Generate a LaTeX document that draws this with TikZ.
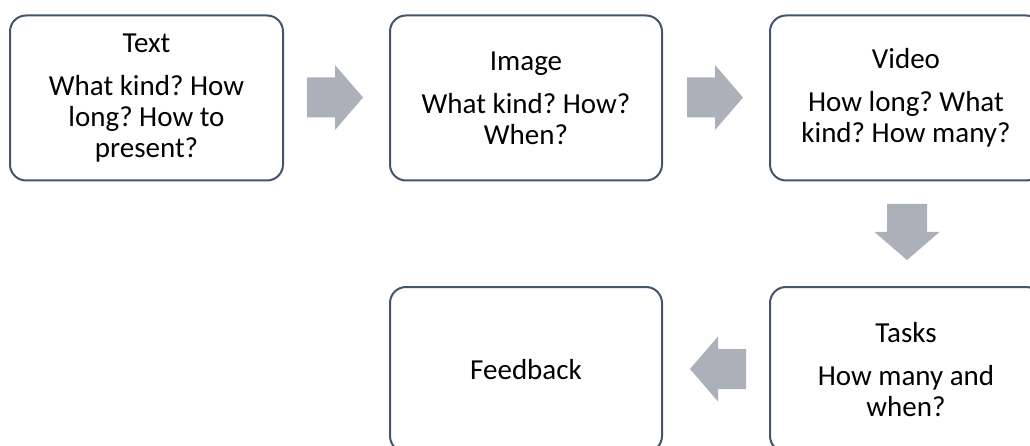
\documentclass[tikz,border=0pt]{standalone}
\usepackage{fontspec}
\setmainfont{Carlito}
\frenchspacing
\definecolor{boxline}{HTML}{44546A}
\definecolor{arrowgray}{RGB}{172,176,184}
\begin{document}
\begin{tikzpicture}[x=1pt,y=-1pt,
  stagebox/.style={draw=boxline, line width=2pt, rounded corners=16pt,
    minimum width=272pt, minimum height=165pt, align=center, inner sep=0pt,
    font=\fontsize{29}{31}\selectfont\frenchspacing},
  blockarrow/.pic={\fill[arrowgray] (-28,-20) -- (0,-20) -- (0,-32.5) -- (28,0)
    -- (0,32.5) -- (0,20) -- (-28,20) -- cycle;}]
\clip (0,0) rectangle (1030,446);
\fill[white] (0,0) rectangle (1030,446);
\node[stagebox, minimum width=273pt] (b1) at (146.5,98) {Text\\[12pt]What kind? How\\long? How to\\present?};
\node[stagebox] (b2) at (526,98) {Image\\[12pt]What kind? How?\\When?};
\node[stagebox] (b3) at (906,98) {Video\\[12pt]How long? What\\kind? How many?};
\node[stagebox] (b4) at (906,369.5) {Tasks\\[12pt]How many and\\when?};
\node[stagebox] (b5) at (526,369.5) {Feedback};
\pic (a1) at (335,97.5) {blockarrow};
\pic (a2) at (715,97.5) {blockarrow};
\pic[rotate=-90] (a3) at (907,232) {blockarrow};
\pic[rotate=180] (a4) at (718,369) {blockarrow};
\end{tikzpicture}
\end{document}
